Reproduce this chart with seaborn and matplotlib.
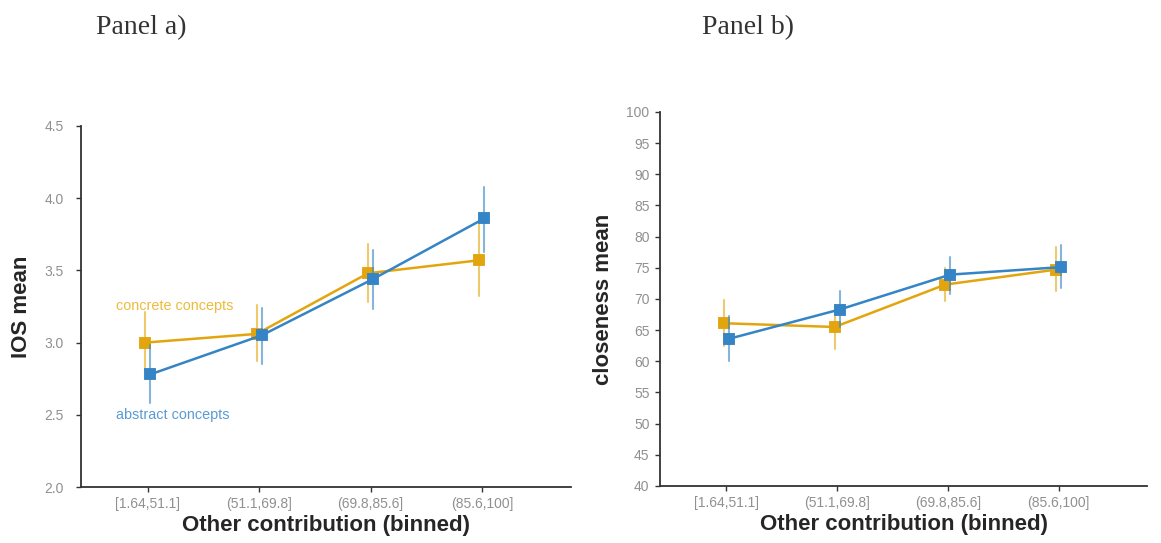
import matplotlib
matplotlib.use("Agg")
import matplotlib.pyplot as plt
import pandas as pd
import seaborn as sns

# binned "other contribution" categories
bins = ["[1.64,51.1]", "(51.1,69.8]", "(69.8,85.6]", "(85.6,100]"]
groups = ["concrete concepts", "abstract concepts"]

# Panel a) IOS mean with 95% CI
ios_concrete = [3.00, 3.06, 3.48, 3.57]
ios_concrete_lo = [2.80, 2.87, 3.28, 3.32]
ios_concrete_hi = [3.21, 3.26, 3.68, 3.82]
ios_abstract = [2.78, 3.05, 3.44, 3.86]
ios_abstract_lo = [2.58, 2.85, 3.23, 3.63]
ios_abstract_hi = [2.98, 3.24, 3.64, 4.08]

# Panel b) closeness mean with 95% CI
clo_concrete = [66.1, 65.5, 72.3, 74.7]
clo_concrete_lo = [62.5, 62.0, 69.6, 71.3]
clo_concrete_hi = [69.8, 69.0, 75.0, 78.3]
clo_abstract = [63.6, 68.3, 73.9, 75.1]
clo_abstract_lo = [60.0, 65.5, 70.8, 71.7]
clo_abstract_hi = [67.3, 71.2, 76.8, 78.6]

palette = {"concrete concepts": "#E3A50E", "abstract concepts": "#3584C6"}


def long_table(means, los, his):
    # three rows per point: the median is the mean, min/max are the interval
    rows = []
    for g, m, lo, hi in zip(groups, means, los, his):
        for b, v, l, h in zip(bins, m, lo, hi):
            for val in (l, v, h):
                rows.append({"bin": b, "group": g, "value": val})
    return pd.DataFrame(rows)


ios_df = long_table([ios_concrete, ios_abstract],
                    [ios_concrete_lo, ios_abstract_lo],
                    [ios_concrete_hi, ios_abstract_hi])
clo_df = long_table([clo_concrete, clo_abstract],
                    [clo_concrete_lo, clo_abstract_lo],
                    [clo_concrete_hi, clo_abstract_hi])

sns.set_theme(style="ticks")
plt.rcParams["font.family"] = ["Liberation Sans", "DejaVu Sans"]

fig = plt.figure(figsize=(11.61, 5.43), dpi=100)
ax1 = fig.add_axes([0.0698, 0.1031, 0.422, 0.665])
ax2 = fig.add_axes([0.5685, 0.105, 0.4195, 0.689])

for ax, df in ((ax1, ios_df), (ax2, clo_df)):
    sns.pointplot(data=df, x="bin", y="value", hue="group", order=bins,
                  hue_order=groups, palette=palette, estimator="median",
                  errorbar=lambda v: (v.min(), v.max()), dodge=0.045,
                  markers="s", markersize=6.5, linewidth=1.8,
                  err_kws={"alpha": 0.6, "linewidth": 1.5},
                  legend=False, ax=ax)
    ax.set_xlim(-0.6, 3.8)
    sns.despine(ax=ax)
    for sp in ("left", "bottom"):
        ax.spines[sp].set_linewidth(1.3)
        ax.spines[sp].set_color("#333333")
    ax.tick_params(axis="both", labelsize=10, labelcolor="#909090",
                   length=3.5, width=1, color="#333333")
    ax.set_xlabel("Other contribution (binned)", fontsize=16,
                  fontweight="bold", labelpad=3)

ax1.set_ylim(2.0, 4.5)
ax1.set_yticks([2.0, 2.5, 3.0, 3.5, 4.0, 4.5])
ax1.set_yticklabels(["2.0", "2.5", "3.0", "3.5", "4.0", "4.5"])
ax1.tick_params(axis="y", pad=9)
ax1.set_ylabel("IOS mean", fontsize=16, fontweight="bold", labelpad=9)
ax1.text(-0.29, 3.25, "concrete concepts", color="#EDBB3A", fontsize=10.4,
         va="center", ha="left")
ax1.text(-0.29, 2.5, "abstract concepts", color="#5A9BD3", fontsize=10.4,
         va="center", ha="left")

ax2.set_ylim(40, 100)
ax2.set_yticks(range(40, 101, 5))
ax2.tick_params(axis="y", pad=4)
ax2.set_ylabel("closeness mean", fontsize=16, fontweight="bold", labelpad=9)

fig.text(0.083, 0.95, "Panel a)", fontsize=20, family="Liberation Serif",
         color="#333333", va="center")
fig.text(0.605, 0.95, "Panel b)", fontsize=20, family="Liberation Serif",
         color="#333333", va="center")

fig.savefig("out.png", dpi=100)
